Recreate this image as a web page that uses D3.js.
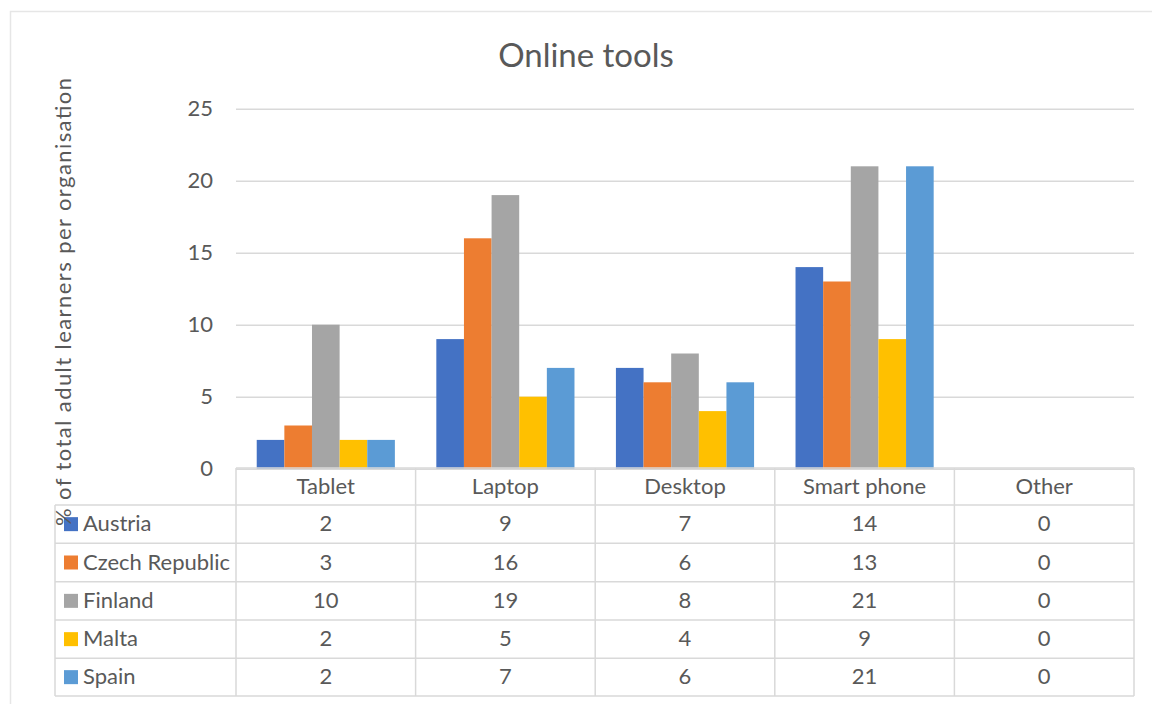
<!DOCTYPE html>
<meta charset="utf-8">
<title>Online tools</title>
<style>
  body { margin: 0; background: #fff; }
  svg text { font-family: Lato, "Open Sans", sans-serif; fill: #595959; }
  .grid line { stroke: #d9d9d9; stroke-width: 1.5px; }
  .grid text { font-size: 22px; }
  .cell { font-size: 22px; text-anchor: middle; }
  .tline { stroke: #d9d9d9; stroke-width: 1.5px; }
</style>
<script src="https://d3js.org/d3.v7.min.js"></script>
<div id="chart"></div>
<script>
// data
var categories = ["Tablet", "Laptop", "Desktop", "Smart phone", "Other"];
var series = ["Austria", "Czech Republic", "Finland", "Malta", "Spain"];
var austria = [2, 9, 7, 14, 0];
var czech = [3, 16, 6, 13, 0];
var finland = [10, 19, 8, 21, 0];
var malta = [2, 5, 4, 9, 0];
var spain = [2, 7, 6, 21, 0];
var yTicks = [0, 5, 10, 15, 20, 25];
var colors = ["#4472C4", "#ED7D31", "#A5A5A5", "#FFC000", "#5B9BD5"];

var values = [austria, czech, finland, malta, spain];

var W = 1152, H = 704;
var plot = {left: 236, right: 1134, top: 108.7, bottom: 468.7};
var tableLeft = 55;
var rowLines = [505, 543.3, 581.7, 620, 658.3, 696];

var svg = d3.select("#chart").append("svg")
    .attr("width", W).attr("height", H);

// outer chart border
svg.append("path")
    .attr("d", "M10.5," + H + "V11.5H" + W)
    .attr("fill", "none")
    .attr("stroke", "#e6e6e6")
    .attr("stroke-width", 1.5);

var x = d3.scaleBand().domain(categories).range([plot.left, plot.right]);
var xs = d3.scaleBand().domain(series).range([0, x.bandwidth()])
    .paddingInner(0).paddingOuter(0.75);
var y = d3.scaleLinear().domain([0, 25]).range([plot.bottom, plot.top]);

// gridlines + tick labels
var grid = svg.append("g")
    .attr("class", "grid")
    .attr("transform", "translate(" + plot.left + ",0)")
    .call(d3.axisLeft(y).tickValues(yTicks).tickSize(-(plot.right - plot.left)).tickPadding(23));
grid.select(".domain").remove();
grid.selectAll("text").attr("dy", "0.32em");
grid.attr("font-family", null).attr("font-size", null);

// bars
svg.append("g").selectAll("g")
  .data(series)
  .join("g")
    .attr("fill", function(d, i) { return colors[i]; })
  .selectAll("rect")
  .data(function(s, i) { return categories.map(function(c, j) { return {s: s, c: c, v: values[i][j]}; }); })
  .join("rect")
    .attr("x", function(d) { return x(d.c) + xs(d.s); })
    .attr("width", xs.bandwidth())
    .attr("y", function(d) { return y(d.v); })
    .attr("height", function(d) { return y(0) - y(d.v); });

// data table
var t = svg.append("g");
t.append("line").attr("class", "tline")
    .attr("x1", plot.left).attr("x2", plot.right).attr("y1", 468).attr("y2", 468);
rowLines.forEach(function(ry) {
  t.append("line").attr("class", "tline")
      .attr("x1", tableLeft).attr("x2", plot.right).attr("y1", ry).attr("y2", ry);
});
t.append("line").attr("class", "tline")
    .attr("x1", tableLeft).attr("x2", tableLeft).attr("y1", rowLines[0]).attr("y2", rowLines[5]);
categories.forEach(function(c) {
  t.append("line").attr("class", "tline")
      .attr("x1", x(c)).attr("x2", x(c)).attr("y1", 468).attr("y2", rowLines[5]);
});
t.append("line").attr("class", "tline")
    .attr("x1", plot.right).attr("x2", plot.right).attr("y1", 468).attr("y2", rowLines[5]);

// header row
t.selectAll("text.head")
  .data(categories)
  .join("text")
    .attr("class", "cell head")
    .attr("x", function(c) { return x(c) + x.bandwidth() / 2; })
    .attr("y", (468 + rowLines[0]) / 2)
    .attr("dy", "0.33em")
    .text(function(c) { return c; });

series.forEach(function(s, i) {
  var cy = (rowLines[i] + rowLines[i + 1]) / 2;
  t.append("rect")
      .attr("x", 64).attr("y", cy - 7)
      .attr("width", 14).attr("height", 14)
      .attr("fill", colors[i]);
  t.append("text")
      .attr("class", "cell")
      .style("text-anchor", "start")
      .attr("x", 83).attr("y", cy).attr("dy", "0.33em")
      .text(s);
  categories.forEach(function(c, j) {
    t.append("text")
        .attr("class", "cell")
        .attr("x", x(c) + x.bandwidth() / 2)
        .attr("y", cy).attr("dy", "0.33em")
        .text(values[i][j]);
  });
});

// title
svg.append("text")
    .attr("x", 586).attr("y", 67)
    .attr("text-anchor", "middle")
    .style("font-size", "33px")
    .text("Online tools");

// y axis title
svg.append("text")
    .attr("transform", "translate(71," + 302 + ") rotate(-90)")
    .attr("text-anchor", "middle")
    .attr("textLength", 448)
    .attr("lengthAdjust", "spacing")
    .style("font-size", "22px")
    .text("% of total adult learners per organisation");
</script>
